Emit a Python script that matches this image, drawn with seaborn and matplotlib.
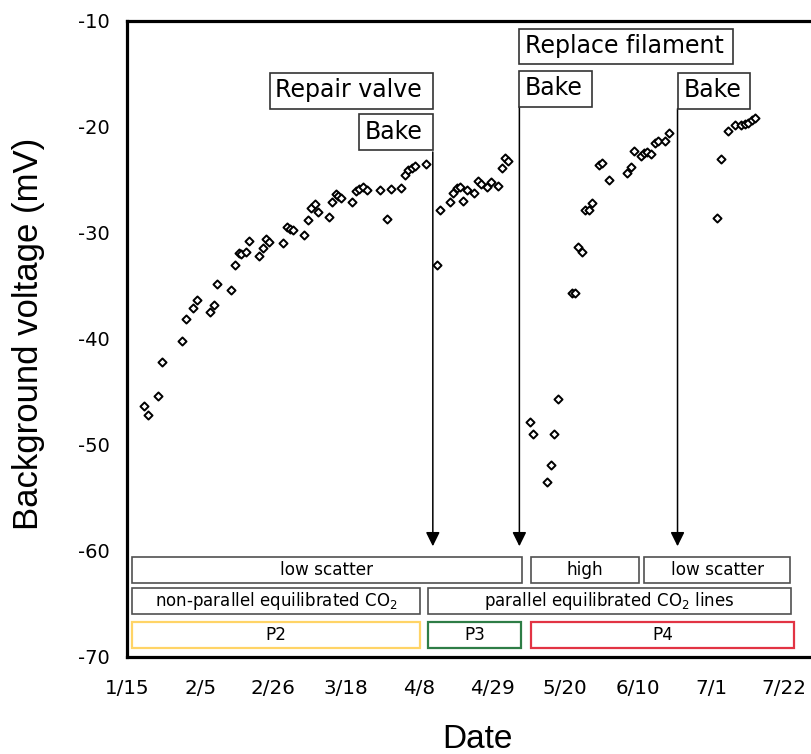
import matplotlib
matplotlib.use("Agg")
import matplotlib.pyplot as plt
from matplotlib.patches import Rectangle
import seaborn as sns
import pandas as pd

# ---------------- data ----------------
# days after 1/15
day = [4.9, 5.9, 8.9, 9.9, 15.8, 17.0, 19.0, 20.1, 23.8, 25.0, 25.9, 29.8, 31.0, 32.0,
       32.6, 34.1, 35.0, 37.9, 39.0, 40.0, 40.8, 44.8, 45.9, 46.8, 47.7, 50.9, 51.9,
       52.9, 54.0, 55.0, 57.9, 58.8, 60.0, 60.5, 61.6, 64.7, 65.8, 66.6, 67.9, 68.9,
       72.7, 74.8, 75.8, 78.6, 79.9, 80.9, 81.8, 82.8, 86.0,
       89.0, 90.0, 92.8, 93.8, 94.8, 95.7, 96.7, 97.8, 99.7, 100.8, 101.7, 103.6,
       104.6, 106.7, 107.8, 108.7, 109.6,
       115.9, 116.8, 120.8, 121.8, 122.7, 123.8, 128.0, 128.8, 129.7, 130.7, 131.8,
       132.7, 133.8, 135.7, 136.6, 138.6, 143.7, 144.8, 145.8, 147.7, 148.7, 149.6,
       150.6, 151.7, 152.8, 154.7, 155.8,
       169.6, 170.7, 172.7, 174.7, 176.7, 177.7, 178.6, 179.6, 180.7]
voltage = [-46.4, -47.2, -45.4, -42.2, -40.2, -38.2, -37.1, -36.4, -37.5, -36.8, -34.9,
           -35.4, -33.1, -31.9, -32.0, -31.8, -30.8, -32.2, -31.5, -30.6, -30.9, -31.0,
           -29.5, -29.7, -29.8, -30.2, -28.8, -27.7, -27.3, -28.1, -28.5, -27.1, -26.4,
           -26.6, -26.7, -27.1, -26.1, -25.9, -25.7, -26.0, -26.0, -28.7, -25.9, -25.8,
           -24.6, -24.1, -23.9, -23.7, -23.5,
           -33.1, -27.9, -27.1, -26.3, -25.8, -25.7, -27.0, -26.0, -26.3, -25.1, -25.4,
           -25.7, -25.2, -25.6, -23.9, -23.0, -23.3,
           -47.9, -49.0, -53.5, -51.9, -49.0, -45.7, -35.7, -35.7, -31.4, -31.8, -27.9,
           -27.9, -27.2, -23.6, -23.4, -25.0, -24.4, -23.8, -22.3, -22.8, -22.5, -22.4,
           -22.6, -21.6, -21.4, -21.4, -20.6,
           -28.6, -23.1, -20.4, -19.9, -19.9, -19.8, -19.7, -19.4, -19.2]

tick_days = [0, 21, 42, 63, 84, 105, 126, 147, 168, 189]
tick_labels = ["1/15", "2/5", "2/26", "3/18", "4/8", "4/29", "5/20", "6/10", "7/1", "7/22"]
y_ticks = [-70, -60, -50, -40, -30, -20, -10]

# events (day of event)
event_days = [87.9, 112.8, 158.3]

# period bars: (start day, end day, label)
scatter_periods = [(1.3, 113.6, "low scatter"), (116.1, 147.3, "high"), (148.7, 190.7, "low scatter")]
co2_periods = [(1.3, 84.3, "non-parallel equilibrated CO$_2$"), (86.4, 190.9, "parallel equilibrated CO$_2$ lines")]
p_periods = [(1.3, 84.3, "P2"), (86.4, 113.3, "P3"), (116.1, 191.9, "P4")]
p_colors = ["#FFD466", "#2E7D46", "#E23444"]

df = pd.DataFrame({"day": day, "voltage": voltage})

# ---------------- figure ----------------
sns.set_theme(style="white")
plt.rcParams["font.family"] = ["DejaVu Sans"]
plt.rcParams["mathtext.fontset"] = "dejavusans"
plt.rcParams["text.color"] = "black"
plt.rcParams["axes.labelcolor"] = "black"
plt.rcParams["xtick.labelcolor"] = "black"
plt.rcParams["ytick.labelcolor"] = "black"

W, H = 811, 754
fig = plt.figure(figsize=(W / 100, H / 100), dpi=100)
ax_left, ax_bottom = 127.3 / W, 97.5 / H
ax = fig.add_axes([ax_left, ax_bottom, 1.0 - ax_left, 636 / H])

sns.scatterplot(data=df, x="day", y="voltage", marker="D", s=17, facecolor="white",
                edgecolor="black", linewidth=1.4, ax=ax, zorder=3)

ax.set_xlim(0, 196.7)
ax.set_ylim(-70, -10)

ax.set_xticks(tick_days)
ax.set_xticklabels(tick_labels, fontsize=14.3, fontfamily="DejaVu Sans", color="black")
ax.set_yticks(y_ticks)
ax.set_yticklabels([str(v) for v in y_ticks], fontsize=14, fontfamily="DejaVu Sans", color="black")
ax.tick_params(axis="x", direction="out", length=4, width=0.9, color="#999999", pad=12)
ax.tick_params(axis="y", direction="out", length=4.5, width=0.9, color="#999999", pad=8)

for side in ["left", "bottom", "top"]:
    ax.spines[side].set_linewidth(2.3)
    ax.spines[side].set_color("black")
ax.spines["right"].set_visible(False)

ax.set_xlabel("Date", fontsize=24, fontfamily="Liberation Sans", color="black")
ax.set_ylabel("Background voltage (mV)", fontsize=25, fontfamily="Liberation Sans", color="black")
ax.xaxis.set_label_coords(0.5125, -0.131)
ax.xaxis.label.set_verticalalignment("center")
ax.yaxis.set_label_coords(-0.145, 0.508)
ax.yaxis.label.set_verticalalignment("center")


def box(x0, x1, y0, y1, ec, lw):
    ax.add_patch(Rectangle((x0, y0), x1 - x0, y1 - y0, facecolor="white",
                           edgecolor=ec, linewidth=lw, zorder=4, clip_on=False))


# bottom period bars
for (a, b, lab) in scatter_periods:
    box(a, b, -63.04, -60.58, "#505050", 1.2)
    ax.text((a + b) / 2, -61.81, lab, ha="center", va="center", fontsize=12.2,
            color="black", zorder=5)
for (a, b, lab) in co2_periods:
    box(a, b, -66.0, -63.57, "#505050", 1.2)
    ax.text((a + b) / 2, -64.8, lab, ha="center", va="center", fontsize=12,
            color="black", zorder=5)
for (a, b, lab), c in zip(p_periods, p_colors):
    box(a, b, -69.2, -66.72, c, 1.6)
    ax.text((a + b) / 2, -67.96, lab, ha="center", va="center", fontsize=12.2,
            color="black", zorder=5)

# event arrows
arrow_tops = [-22.4, -18.13, -18.32]
for x, top in zip(event_days, arrow_tops):
    ax.annotate("", xy=(x, -59.6), xytext=(x, top),
                arrowprops=dict(arrowstyle="-|>,head_length=0.85,head_width=0.42",
                                mutation_scale=10, color="black", lw=1.1,
                                shrinkA=0, shrinkB=0), zorder=4)

# event labels (text boxes)
label_boxes = [
    (41.0, 87.9, -18.32, -14.92, "Repair valve"),
    (66.6, 87.9, -22.25, -18.85, "Bake"),
    (112.8, 174.3, -14.13, -10.83, "Replace filament"),
    (112.8, 133.7, -18.13, -14.74, "Bake"),
    (158.4, 179.2, -18.32, -14.92, "Bake"),
]
for (a, b, y0, y1, lab) in label_boxes:
    box(a, b, y0, y1, "#333333", 1.2)
    ax.text(a + 1.6, (y0 + y1) / 2 + 0.05, lab, ha="left", va="center", fontsize=17,
            color="black", zorder=5)

fig.savefig("out.png", dpi=100)
